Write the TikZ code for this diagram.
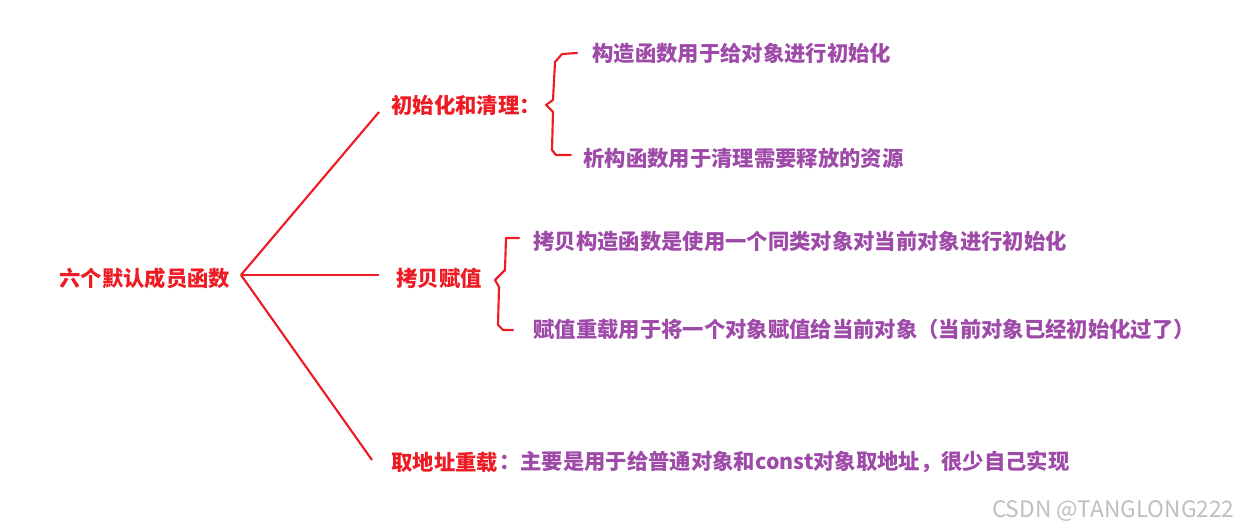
\documentclass[tikz,border=0pt]{standalone}
\usepackage{fontspec}
\newfontfamily\cjk{Noto Sans CJK SC}
\definecolor{mred}{RGB}{237,28,36}
\definecolor{mpurple}{RGB}{158,74,168}

\begin{document}
\begin{tikzpicture}[x=0.75pt, y=-0.75pt, thick]
	\tikzset{
		txt/.style={anchor=west, inner sep=0pt, font=\cjk\bfseries\fontsize{16}{19}\selectfont},
		head/.style={txt, text=mred},
		leaf/.style={txt, text=mpurple},
		branch/.style={mred, line width=1.6pt},
		brace/.style={mred, line width=1.6pt, line join=round, line cap=round}
	}
	\useasboundingbox (0,0) rectangle (1239,530);
	
	\node[head] (root) at (59, 278) {六个默认成员函数};
	\node[head] (init) at (391, 105) {初始化和清理：};
	\node[head] (copy) at (396, 278) {拷贝赋值};
	\node[head] (addr) at (391, 462) {取地址重载};
	\node[leaf] (addrtxt) at (addr.east) {：主要是用于给普通对象和const对象取地址，很少自己实现};
	
	\node[leaf] (ctor) at (592, 53) {构造函数用于给对象进行初始化};
	\node[leaf] (dtor) at (583, 158) {析构函数用于清理需要释放的资源};
	\node[leaf] (cctor) at (533, 241) {拷贝构造函数是使用一个同类对象对当前对象进行初始化};
	\node[leaf] (assign) at (533, 329) {赋值重载用于将一个对象赋值给当前对象（当前对象已经初始化过了）};
	
	\node[anchor=east, inner sep=0pt, text=black!25, font=\cjk\fontsize{17}{20}\selectfont] (mark) at (1235, 511) {CSDN @TANGLONG222};
	
	\coordinate (hub) at (241, 275);
	\coordinate (e1) at (379, 112);
	\coordinate (e2) at (379, 275);
	\coordinate (e3) at (372, 460);
	
	\foreach \e in {e1, e2, e3}{
		\draw[branch] (hub) -- (\e);
	}
	
	% braces
	\draw[brace] (577, 53) -- (562, 54) -- (555, 62) -- (553, 100) -- (546, 105)
		-- (553, 112) -- (552, 150) -- (556, 155) -- (571, 155);
	\draw[brace] (519, 238) -- (506, 238) -- (505, 270) -- (495, 280)
		-- (499, 287) -- (498, 325) -- (503, 330) -- (513, 330);
\end{tikzpicture}
\end{document}
